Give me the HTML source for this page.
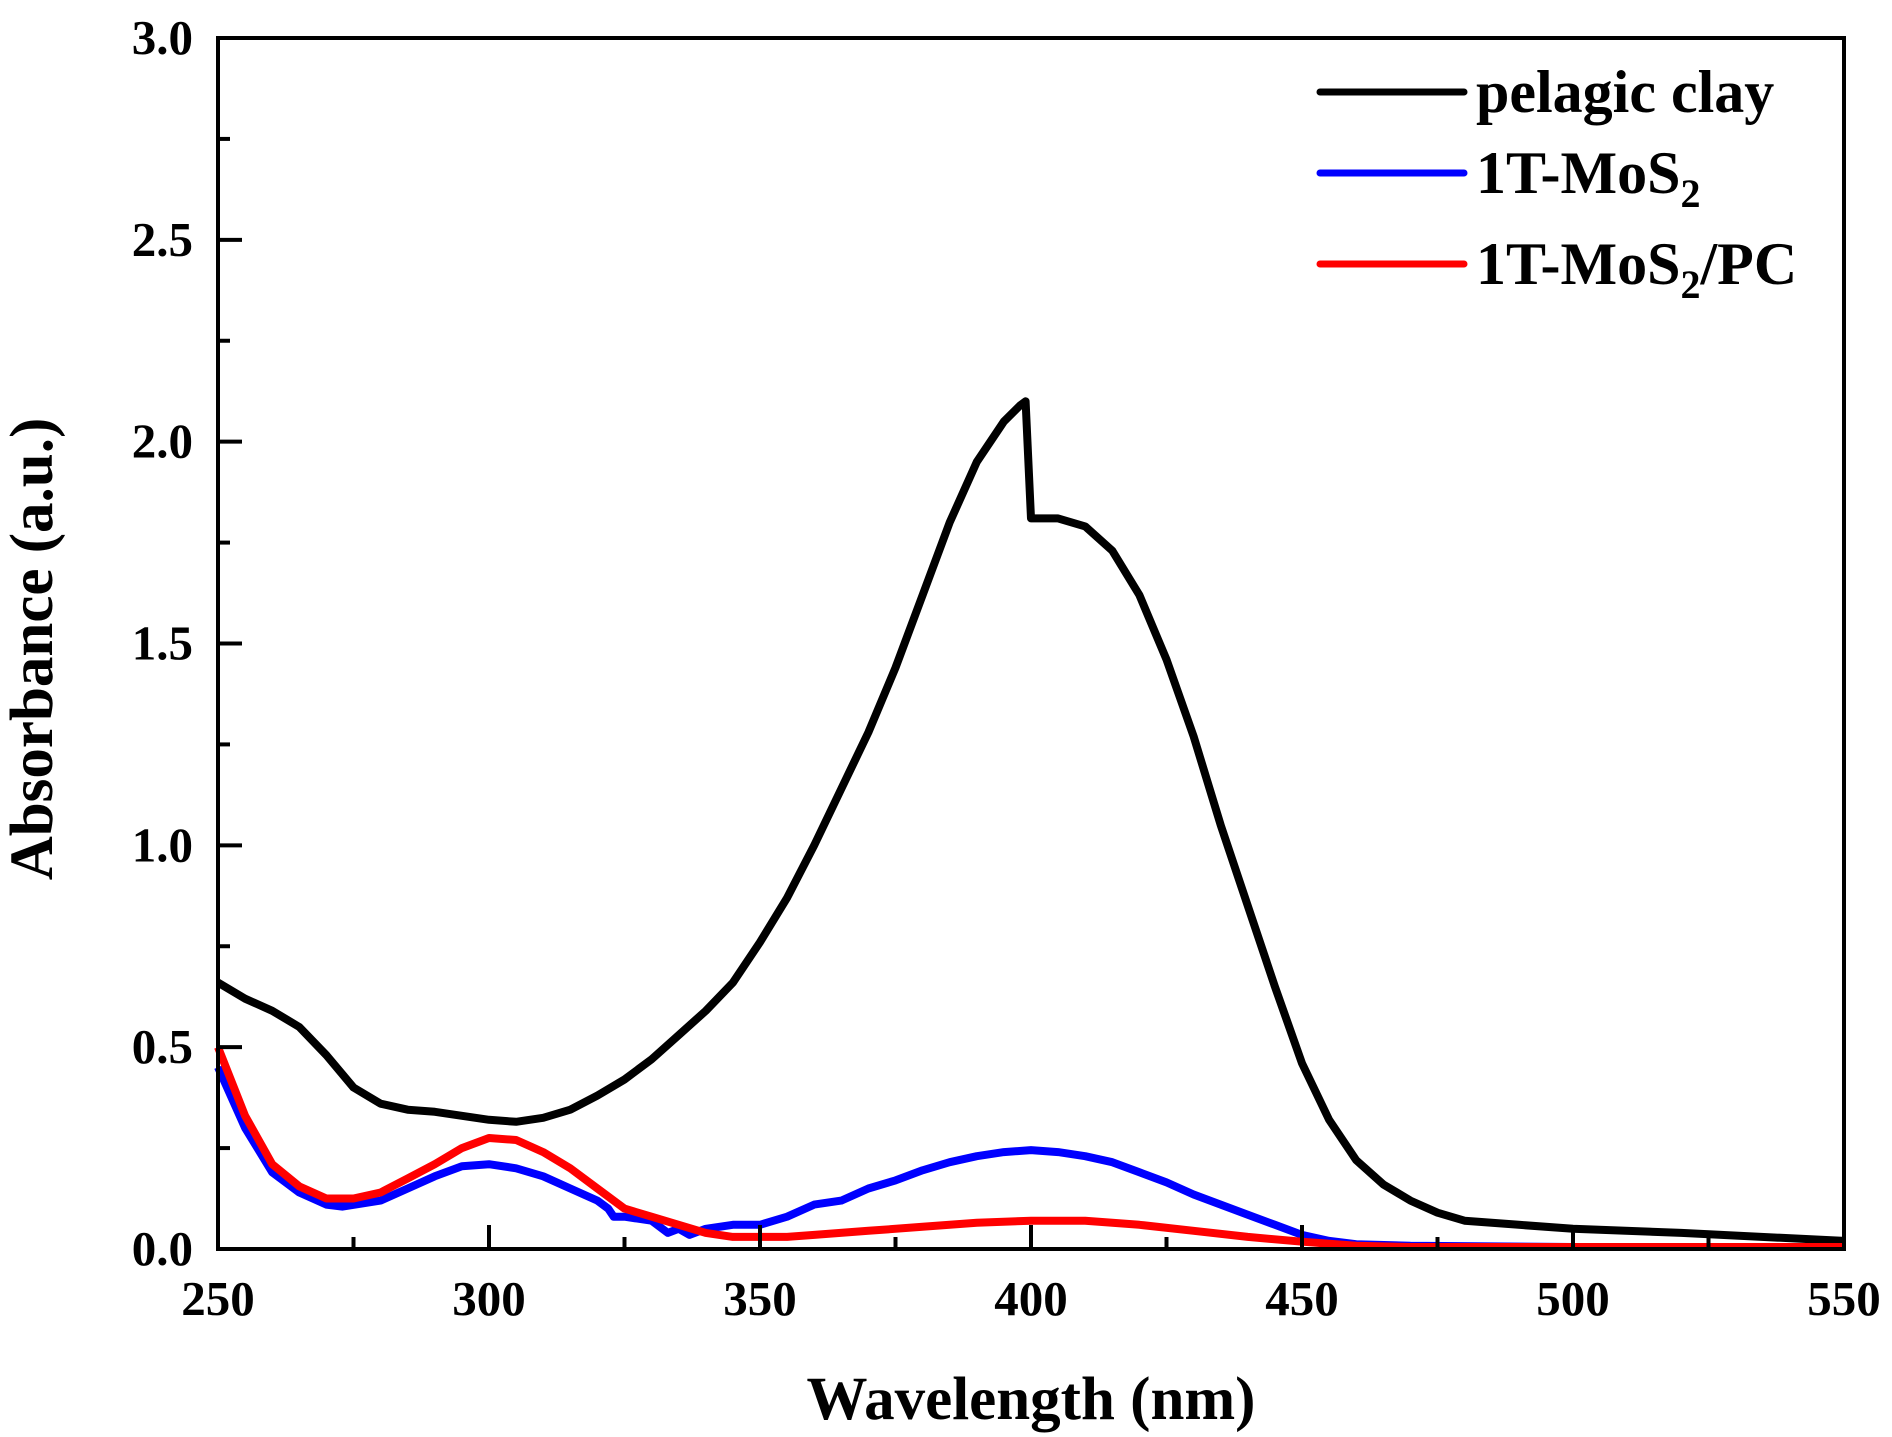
<!DOCTYPE html>
<html><head><meta charset="utf-8"><style>
html,body{margin:0;padding:0;background:#fff;}
svg{display:block;font-family:"Liberation Serif",serif;font-weight:bold;}
</style></head><body>
<svg id="chart" width="1892" height="1437" viewBox="0 0 1892 1437">
<g id="curves"></g>
<g id="axes"></g>
<g id="legend">
<line x1="1320" y1="92" x2="1464" y2="92" stroke="#000" stroke-width="7" stroke-linecap="round"/>
<text x="1476" y="112" font-size="60">pelagic clay</text>
<line x1="1320" y1="173" x2="1464" y2="173" stroke="#0000ff" stroke-width="7" stroke-linecap="round"/>
<text x="1476" y="193" font-size="60">1T-MoS<tspan font-size="40" dy="14">2</tspan></text>
<line x1="1320" y1="264" x2="1464" y2="264" stroke="#ff0000" stroke-width="7" stroke-linecap="round"/>
<text x="1476" y="284" font-size="60">1T-MoS<tspan font-size="40" dy="14">2</tspan><tspan dy="-14">/PC</tspan></text>
</g>
<text x="1031" y="1419" font-size="61" text-anchor="middle">Wavelength (nm)</text>
<text transform="translate(52,649) rotate(-90)" font-size="61" text-anchor="middle">Absorbance (a.u.)</text>
</svg>
<script>
const xTicks = [250,300,350,400,450,500,550];
const yTicks = [0.0,0.5,1.0,1.5,2.0,2.5,3.0];
const clayX = [250,255,260,265,270,275,280,285,290,295,300,305,310,315,320,325,330,335,340,345,350,355,360,365,370,375,380,385,390,395,398,399,400,405,410,415,420,425,430,435,440,445,450,455,460,465,470,475,480,490,500,520,550];
const clayY = [0.66,0.62,0.59,0.55,0.48,0.40,0.36,0.345,0.34,0.33,0.32,0.315,0.325,0.345,0.38,0.42,0.47,0.53,0.59,0.66,0.76,0.87,1.0,1.14,1.28,1.44,1.62,1.80,1.95,2.05,2.09,2.10,1.81,1.81,1.79,1.73,1.62,1.46,1.27,1.05,0.85,0.65,0.46,0.32,0.22,0.16,0.12,0.09,0.07,0.06,0.05,0.04,0.02];
const mosX = [250,255,260,265,270,273,280,285,290,295,300,305,310,315,320,322,323,325,330,333,335,337,340,345,350,355,360,365,370,375,380,385,390,395,400,405,410,415,420,425,430,435,440,445,450,455,460,470,500,550];
const mosY = [0.45,0.30,0.19,0.14,0.11,0.105,0.12,0.15,0.18,0.205,0.21,0.20,0.18,0.15,0.12,0.10,0.08,0.08,0.07,0.04,0.05,0.035,0.05,0.06,0.06,0.08,0.11,0.12,0.15,0.17,0.195,0.215,0.23,0.24,0.245,0.24,0.23,0.215,0.19,0.165,0.135,0.11,0.085,0.06,0.035,0.02,0.012,0.008,0.005,0.005];
const pcX = [250,255,260,265,270,275,280,285,290,295,300,305,310,315,320,325,330,335,340,345,350,355,360,370,380,390,400,410,420,430,440,450,460,470,500,550];
const pcY = [0.5,0.33,0.21,0.155,0.125,0.125,0.14,0.175,0.21,0.25,0.275,0.27,0.24,0.2,0.15,0.1,0.08,0.06,0.04,0.03,0.03,0.03,0.035,0.045,0.055,0.065,0.07,0.07,0.06,0.045,0.03,0.018,0.008,0.005,0.005,0.005];

const L=218,R=1844,T=38,B=1249;
const sx = v => L + (v-250)/(550-250)*(R-L);
const sy = v => B - v/3*(B-T);
const NS='http://www.w3.org/2000/svg';
function mk(tag, attrs){const e=document.createElementNS(NS,tag);for(const k in attrs)e.setAttribute(k,attrs[k]);return e;}
const curves=document.getElementById('curves');
function series(xs,ys,color,name){
  const d=xs.map((x,i)=>(i?'L':'M')+sx(x).toFixed(1)+','+sy(ys[i]).toFixed(1)).join('');
  const p=mk('path',{d:d,fill:'none',stroke:color,'stroke-width':8,'stroke-linejoin':'round'});
  
  
  curves.appendChild(p);
}
series(clayX,clayY,'#000','series-pelagic-clay');
series(mosX,mosY,'#0000ff','series-1t-mos2');
series(pcX,pcY,'#ff0000','series-1t-mos2-pc');

const axes=document.getElementById('axes');
const frame=mk('rect',{x:L,y:T,width:R-L,height:B-T,fill:'none',stroke:'#000','stroke-width':4});


axes.appendChild(frame);
xTicks.forEach((v,i)=>{
  const t=mk('line',{x1:sx(v),y1:B,x2:sx(v),y2:B-24,stroke:'#000','stroke-width':4});
  
  
  axes.appendChild(t);
  if(i<xTicks.length-1){
    const m=mk('line',{x1:sx(v+25),y1:B,x2:sx(v+25),y2:B-12,stroke:'#000','stroke-width':4});
    
    
    axes.appendChild(m);
  }
  const lb=mk('text',{x:sx(v),y:1315,'font-size':49,'text-anchor':'middle'});
  lb.textContent=String(v);
  
  
  axes.appendChild(lb);
});
yTicks.forEach((v,i)=>{
  const t=mk('line',{x1:L,y1:sy(v),x2:L+24,y2:sy(v),stroke:'#000','stroke-width':4});
  
  
  axes.appendChild(t);
  if(i<yTicks.length-1){
    const m=mk('line',{x1:L,y1:sy(v+0.25),x2:L+12,y2:sy(v+0.25),stroke:'#000','stroke-width':4});
    
    
    axes.appendChild(m);
  }
  const lb=mk('text',{x:193,y:sy(v)+16,'font-size':49,'text-anchor':'end'});
  lb.textContent=v.toFixed(1);
  
  
  axes.appendChild(lb);
});
</script>
</body></html>
